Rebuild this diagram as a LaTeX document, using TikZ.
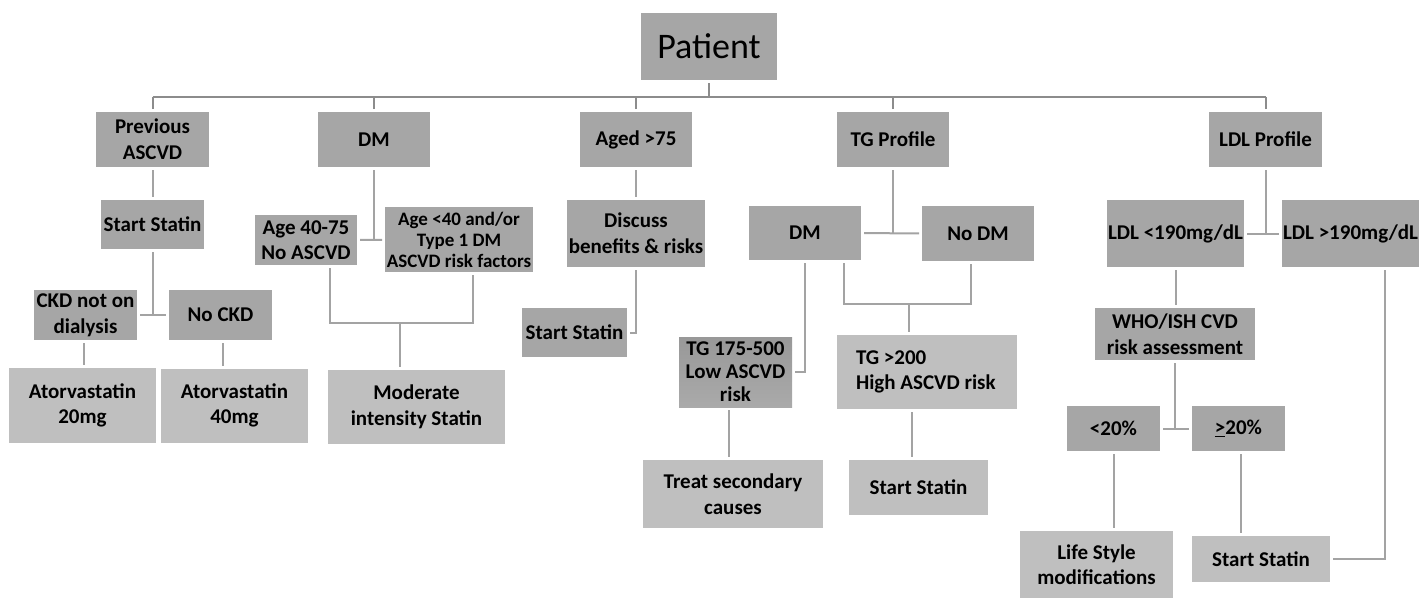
\documentclass[tikz,border=0pt]{standalone}
\usepackage{fontspec}
\setmainfont{Carlito}
\definecolor{boxdark}{RGB}{166,166,166}
\definecolor{boxlight}{RGB}{191,191,191}
\definecolor{linegray}{RGB}{163,163,163}
\definecolor{busgray}{RGB}{140,140,140}
\definecolor{gradtop}{RGB}{152,152,152}
\definecolor{gradbot}{RGB}{170,170,170}
\tikzset{
  box/.style={inner sep=0pt, outer sep=3pt, align=center, font=\bfseries\fontsize{21}{25.6}\selectfont},
  dark/.style={box, fill=boxdark},
  light/.style={box, fill=boxlight},
  conn/.style={draw=linegray, line width=2pt},
  busline/.style={draw=busgray, line width=2pt}
}
\begin{document}
\begin{tikzpicture}[x=1pt,y=-1pt]
  \useasboundingbox (0,0) rectangle (1421,600);

  % root and first level
  \node[dark, minimum width=136pt, minimum height=67pt, font=\fontsize{36}{44}\selectfont] (patient) at (709,46.5) {Patient};
  \node[dark, minimum width=113pt, minimum height=55pt] (prev) at (152.5,139.5) {Previous\\ASCVD};
  \node[dark, minimum width=112pt, minimum height=55pt] (dm)   at (374,139.5) {DM};
  \node[dark, minimum width=112pt, minimum height=55pt] (aged) at (636,139.5) {Aged >75};
  \node[dark, minimum width=112pt, minimum height=55pt] (tg)   at (893,139.5) {TG Profile};
  \node[dark, minimum width=113pt, minimum height=55pt] (ldl)  at (1265.5,139.5) {LDL Profile};
  \coordinate (bus) at (709,97);
  \draw[busline] (patient) -- (bus);
  \draw[busline] (prev.north |- bus) -- (ldl.north |- bus);
  \foreach \n in {prev,dm,aged,tg,ldl}
    \draw[busline] (\n.north) -- (\n.north |- bus);

  % previous ASCVD
  \node[dark, minimum width=103pt, minimum height=49pt] (prevstat) at (152.5,224.5) {Start Statin};
  \node[dark, minimum width=103pt, minimum height=50pt] (ckd)   at (85.5,315) {CKD not on\\dialysis};
  \node[dark, minimum width=103pt, minimum height=50pt] (nockd) at (220.5,315) {No CKD};
  \node[light, minimum width=147pt, minimum height=75pt] (ator20) at (82.5,405.5) {Atorvastatin\\20mg};
  \node[light, minimum width=147pt, minimum height=74pt] (ator40) at (234.5,405.5) {Atorvastatin\\40mg};
  \draw[conn] (prev) -- (prevstat);
  \draw[conn] (ckd) -- (nockd);
  \draw[conn] (prevstat.south) -- (prevstat.south |- ckd.east);
  \draw[conn] ([xshift=-2pt]ckd.south) -- ([xshift=-2pt]ckd.south |- ator20.north);
  \draw[conn] ([xshift=2pt]nockd.south) -- ([xshift=2pt]nockd.south |- ator40.north);

  % DM
  \node[dark, minimum width=102pt, minimum height=50pt] (age4075) at (306,240) {Age 40-75\\No ASCVD};
  \node[dark, minimum width=148pt, minimum height=65pt, font=\bfseries\fontsize{19}{21}\selectfont] (age40) at (459,239.5)
    {Age <40 and/or\\Type 1 DM\\ASCVD risk factors};
  \node[light, minimum width=177pt, minimum height=74pt] (modstat) at (416.5,407) {Moderate\\intensity Statin};
  \coordinate (dmj) at (400,323);
  \draw[conn] (age4075) -- (age40);
  \draw[conn] (dm.south) -- (dm.south |- age40.west);
  \draw[conn] ([xshift=24pt]age4075.south) |- (dmj) -| ([xshift=14pt]age40.south);
  \draw[conn] (dmj) -- (dmj |- modstat.north);

  % aged >75
  \node[dark, minimum width=138pt, minimum height=67pt] (discuss) at (636,233.5) {Discuss\\benefits \& risks};
  \node[dark, minimum width=105pt, minimum height=49pt] (agedstat) at (574.5,332.5) {Start Statin};
  \draw[conn] (aged) -- (discuss);
  \draw[conn] (discuss.south) |- (agedstat.east);

  % TG profile
  \node[dark, minimum width=112pt, minimum height=54pt] (tgdm)   at (805,233) {DM};
  \node[dark, minimum width=112pt, minimum height=55pt] (tgnodm) at (978,233.5) {No DM};
  \node[dark, minimum width=113pt, minimum height=70pt, font=\bfseries\fontsize{21}{23}\selectfont,
        top color=gradtop, bottom color=gradbot]
    (tglow) at (735.5,372) {TG 175-500\\Low ASCVD\\risk};
  \node[light, minimum width=180pt, minimum height=74pt, text width=142pt, align=flush left] (tghigh) at (927,372) {TG >200\\High ASCVD risk};
  \node[light, minimum width=180pt, minimum height=68pt] (treat)  at (733,494) {Treat secondary\\causes};
  \node[light, minimum width=139pt, minimum height=55pt] (tgstat) at (918.5,487.5) {Start Statin};
  \coordinate (tgj) at (909,304);
  \draw[conn] (tgdm) -- (tgnodm);
  \draw[conn] (tg.south) -- (tg.south |- tgdm.east);
  \draw[conn] (tgdm.south) |- (tglow.east);
  \draw[conn] ([xshift=39pt]tgdm.south) |- (tgj) -| ([xshift=-7pt]tgnodm.south);
  \draw[conn] (tgj) -- (tgj |- tghigh.north);
  \draw[conn] ([xshift=-6.5pt]tglow.south) -- ([xshift=-6.5pt]tglow.south |- treat.north);
  \draw[conn] ([xshift=-15pt]tghigh.south) -- ([xshift=-15pt]tghigh.south |- tgstat.north);

  % LDL profile
  \node[dark, minimum width=137pt, minimum height=67pt] (ldllo) at (1175.5,233.5) {LDL <190mg/dL};
  \node[dark, minimum width=137pt, minimum height=67pt] (ldlhi) at (1350.5,233.5) {LDL >190mg/dL};
  \node[dark, minimum width=160pt, minimum height=52pt] (who)   at (1175,334) {WHO/ISH CVD\\risk assessment};
  \node[dark, minimum width=93pt, minimum height=45pt] (lt20)   at (1113.5,428.5) {<20\%};
  \node[dark, minimum width=93pt, minimum height=45pt] (ge20)   at (1238.5,428.5) {\underline{>}20\%};
  \node[light, minimum width=153pt, minimum height=67pt] (life) at (1096.5,564.5) {Life Style\\modifications};
  \node[light, minimum width=138pt, minimum height=46pt] (ldlstat) at (1261,559) {Start Statin};
  \coordinate (ldlc) at (1385,559);
  \draw[conn] (ldllo) -- (ldlhi);
  \draw[conn] (ldl.south) -- (ldl.south |- ldllo.east);
  \draw[conn] (ldllo.south) -- (ldllo.south |- who.north);
  \draw[conn] (lt20) -- (ge20);
  \draw[conn] (who.south) -- (who.south |- lt20.east);
  \draw[conn] (lt20.south) -- (lt20.south |- life.north);
  \draw[conn] ([xshift=2.5pt]ge20.south) -- ([xshift=2.5pt]ge20.south |- ldlstat.north);
  \draw[conn] (ldlstat.east) -- (ldlc) -- (ldlc |- ldlhi.south);
\end{tikzpicture}
\end{document}
